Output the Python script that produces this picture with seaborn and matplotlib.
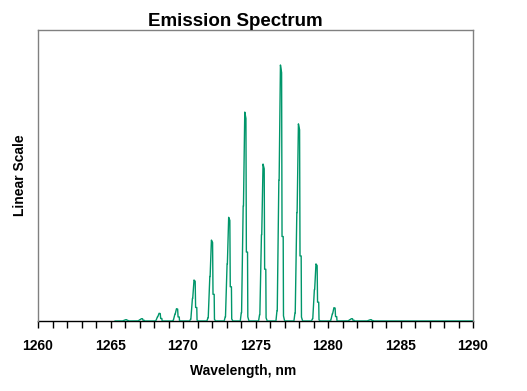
import numpy as np
import pandas as pd
import seaborn as sns
import matplotlib.pyplot as plt
from matplotlib.ticker import MultipleLocator

# Peak centres (nm) and heights (arbitrary, linear scale)
peak_nm = [1266.07, 1267.15, 1268.37, 1269.57, 1270.78, 1271.98, 1273.17,
           1274.28, 1275.54, 1276.74, 1277.98, 1279.19, 1280.43, 1281.63, 1282.94]
peak_height = [0.005, 0.009, 0.030, 0.048, 0.160, 0.316, 0.405,
               0.816, 0.613, 1.000, 0.770, 0.223, 0.052, 0.009, 0.005]

# Shape of one line as drawn (offset from centre in nm, relative height)
shape_offset = [-0.33, -0.26, -0.24, -0.13, -0.11, -0.02, 0.06, 0.09, 0.17, 0.19, 0.27]
shape_rel = [0.0, 0.04, 0.04, 0.55, 0.55, 1.0, 0.97, 0.33, 0.33, 0.02, 0.0]

trace_start = 1265.3
trace_end = 1290.0

# Build the trace from the peak list
wl = [trace_start]
inten = [0.0]
for c, h in zip(peak_nm, peak_height):
    for o, r in zip(shape_offset, shape_rel):
        wl.append(c + o)
        inten.append(h * r)
wl.append(trace_end)
inten.append(0.0)
df = pd.DataFrame({'wavelength': wl, 'intensity': inten})

sns.set_style('white')
plt.rcParams['font.family'] = ['Liberation Sans', 'DejaVu Sans']
plt.rcParams['text.color'] = 'black'
plt.rcParams['axes.labelcolor'] = 'black'
plt.rcParams['xtick.color'] = 'black'

fig = plt.figure(figsize=(5.27, 3.91), dpi=100)
ax = fig.add_axes([38 / 527, 70 / 391, 435 / 527, 291 / 391])

sns.lineplot(data=df, x='wavelength', y='intensity', ax=ax, color='#00966a',
             linewidth=1.0, estimator=None, sort=False)

ax.set_xlim(1260, 1290)
ax.set_ylim(0, 291 / 256)
ax.xaxis.set_major_locator(MultipleLocator(5))
ax.xaxis.set_minor_locator(MultipleLocator(1))
ax.tick_params(axis='x', which='both', direction='out', length=5, width=1,
               color='black', bottom=True, labelsize=10, pad=8, labelcolor='black')
ax.tick_params(axis='y', left=False, labelleft=False)
for lbl in ax.get_xticklabels():
    lbl.set_fontweight('bold')

for side in ['left', 'top', 'right']:
    ax.spines[side].set_color('#808080')
    ax.spines[side].set_linewidth(1)
ax.spines['bottom'].set_color('black')
ax.spines['bottom'].set_linewidth(1)
ax.spines['bottom'].set_zorder(0)

ax.set_xlabel('Wavelength, nm', fontsize=10, fontweight='bold', labelpad=8)
ax.xaxis.label.set_x(0.471)
ax.set_ylabel('Linear Scale', fontsize=10, fontweight='bold', labelpad=8)

fig.text(235.5 / 527, 1 - 21 / 391, 'Emission Spectrum', ha='center', va='center',
         fontsize=13.5, fontweight='bold')

plt.savefig('out.png', dpi=100)
